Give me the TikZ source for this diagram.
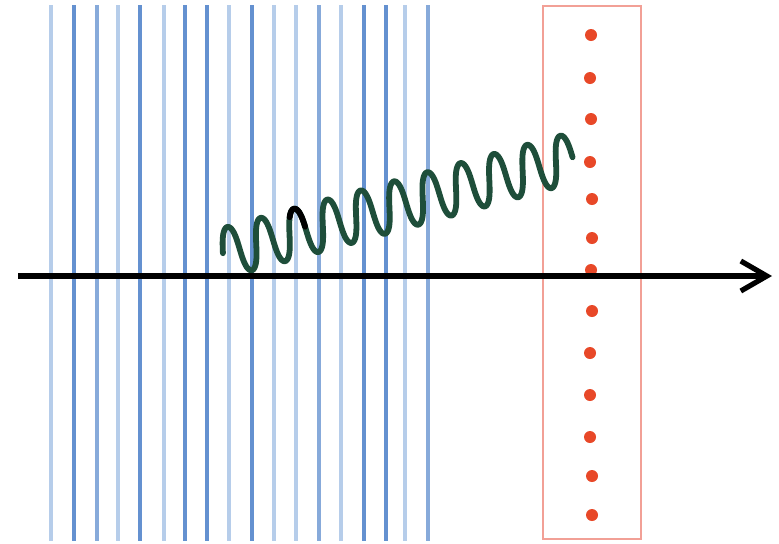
\documentclass[tikz,border=0pt]{standalone}
\usetikzlibrary{arrows.meta}

% Colours
\definecolor{bluedark}{RGB}{100,145,208}
\definecolor{bluemid}{RGB}{135,170,218}
\definecolor{bluelight}{RGB}{182,205,234}
\definecolor{boxred}{RGB}{242,160,150}
\definecolor{dotred}{RGB}{232,72,40}
\definecolor{wavegreen}{RGB}{30,78,58}

\tikzset{
  plate/.style={line width=2pt},
  detector/.style={draw=boxred, line width=0.8pt},
  site/.style={fill=dotred},
  beam/.style={line width=2.6pt, -{Straight Barb[length=13pt,width=15pt]}},
  photon/.style={line width=2.9pt, line cap=round, line join=round}
}

% coil profile: horizontal and vertical position for phase #1 (radians)
\newcommand{\coilx}[1]{(231.25 + 5.3*#1 - 4*cos(#1 r) + 1.2*sin(2*#1 r))}
\newcommand{\coily}[1]{(252 - 0.274*(4 + 5.3*#1 - 4*cos(#1 r) + 1.2*sin(2*#1 r)) - 25*cos(#1 r))}

\begin{document}
\begin{tikzpicture}[x=0.5pt, y=-0.5pt]
  % canvas
  \fill[white] (0,0) rectangle (779,543);
  \useasboundingbox (0,0) rectangle (779,543);

  % stack of vertical planes
  \foreach \xx/\cc in {51/bluelight, 74/bluedark, 97/bluemid, 118/bluelight,
                       140/bluedark, 164/bluelight, 185/bluedark, 207/bluedark,
                       229/bluelight, 252/bluedark, 274/bluelight, 296/bluelight,
                       319/bluemid, 341/bluelight, 364/bluedark, 386/bluedark,
                       405/bluelight, 428/bluemid}
    \draw[plate, draw=\cc] (\xx,5) -- (\xx,541);

  % detector box
  \draw[detector] (543,6) rectangle (641,539);

  % row of sites
  \foreach \yy/\xx in {35/591, 78/590, 119/591, 162/590, 199/592, 238/592, 270/591,
                       311/592, 353/590, 395/590, 437/590, 476/592, 515/592}
    \fill[site] (\xx,\yy) circle (6);

  % wavy photon
  \draw[photon, draw=wavegreen]
    plot[domain=-0.5*pi:20.5*pi, samples=900, variable=\t]
      ({\coilx{\t}}, {\coily{\t}});
  \draw[photon, draw=black]
    plot[domain=3.75*pi:4.45*pi, samples=60, variable=\t]
      ({\coilx{\t}}, {\coily{\t}});

  % horizontal axis
  \coordinate (axstart) at (18,276);
  \coordinate (axend) at (772,276);
  \draw[beam] (axstart) -- (axend);
\end{tikzpicture}
\end{document}
